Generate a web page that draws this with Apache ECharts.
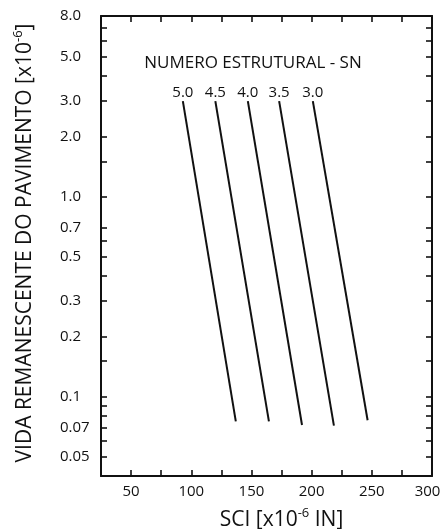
<!DOCTYPE html>
<html>
<head>
<meta charset="utf-8">
<script src="https://cdn.jsdelivr.net/npm/echarts@6/dist/echarts.min.js"></script>
<style>
  html, body { margin: 0; padding: 0; background: #ffffff; }
  #chart { width: 442px; height: 529px; }
</style>
</head>
<body>
<div id="chart"></div>
<script>
// Structural number (SN) curves: remaining pavement life vs. SCI
const snLabels   = ['5.0', '4.5', '4.0', '3.5', '3.0'];
const sciTop     = [93, 120, 147, 173, 201];
const lifeTop    = [3.0, 3.0, 3.0, 3.0, 3.0];
const sciBottom  = [137, 164.5, 192, 218.5, 246.5];
const lifeBottom = [0.075, 0.075, 0.072, 0.0715, 0.076];

// Axis ticks and labels
const xLabelValues = [50, 100, 150, 200, 250, 300];
const yLabelValues = [8, 5, 3, 2, 1, 0.7, 0.5, 0.3, 0.2, 0.1, 0.07, 0.05];
const yTickValues  = [8, 7, 6, 5, 4, 3, 2, 1.5, 1, 0.7, 0.6, 0.5, 0.4, 0.3, 0.2, 0.15,
                      0.1, 0.09, 0.08, 0.07, 0.06, 0.05];

const INK = '#111111';
const FONT = '"Open Sans", "DejaVu Sans", sans-serif';

const frameLine = { show: true, lineStyle: { color: INK, width: 2 } };
const innerTick = { show: true, inside: true, length: 6, lineStyle: { color: INK, width: 1.6 } };

const chart = echarts.init(document.getElementById('chart'), null, { renderer: 'canvas' });

const series = snLabels.map((sn, i) => ({
  name: sn,
  type: 'line',
  xAxisIndex: 0,
  yAxisIndex: 0,
  symbol: 'circle',
  symbolSize: 0,
  showSymbol: true,
  silent: true,
  lineStyle: { color: INK, width: 2 },
  label: { show: false },
  data: [
    {
      value: [sciTop[i], lifeTop[i]],
      label: {
        show: true, position: 'top', distance: 1,
        formatter: sn, color: INK, fontSize: 15, fontFamily: FONT
      }
    },
    [sciBottom[i], lifeBottom[i]]
  ]
}));

chart.setOption({
  animation: false,
  backgroundColor: '#ffffff',
  grid: { left: 101, right: 10, top: 16, bottom: 53, outerBoundsMode: 'none', containLabel: false },
  graphic: [{
    type: 'text',
    x: 253, y: 63,
    style: {
      text: 'NUMERO ESTRUTURAL - SN',
      fill: INK, font: '17px ' + FONT,
      textAlign: 'center', textVerticalAlign: 'middle'
    }
  }],
  xAxis: [
    {
      type: 'value', position: 'bottom',
      min: 25, max: 300, interval: 25,
      axisLine: frameLine, axisTick: innerTick, splitLine: { show: false },
      axisLabel: {
        customValues: xLabelValues,
        color: INK, fontSize: 15, fontFamily: FONT, margin: 8,
        // keep the last label inside the canvas edge
        formatter: v => (v === xLabelValues[xLabelValues.length - 1] ? '{edge|' + v + '}' : String(v)),
        rich: { edge: { fontSize: 15, fontFamily: FONT, color: INK, padding: [0, 9, 0, 0] } }
      },
      name: 'SCI [x10{sup|-6} IN]',
      nameLocation: 'middle', nameGap: 31,
      nameTextStyle: {
        color: INK, fontSize: 21, fontFamily: FONT, lineHeight: 26,
        padding: [0, 0, 0, 30],
        rich: { sup: { fontSize: 13, fontFamily: FONT, color: INK, verticalAlign: 'top', lineHeight: 24 } }
      }
    },
    {
      type: 'value', position: 'top',
      min: 25, max: 300, interval: 25,
      axisLine: frameLine, axisTick: innerTick,
      axisLabel: { show: false }, splitLine: { show: false }
    }
  ],
  yAxis: [
    {
      type: 'log', logBase: 10, position: 'left',
      min: 0.04, max: 8,
      axisLine: frameLine,
      axisTick: Object.assign({}, innerTick, { customValues: yTickValues }),
      minorTick: { show: false }, splitLine: { show: false },
      axisLabel: {
        customValues: yLabelValues,
        align: 'left', margin: 41,
        color: INK, fontSize: 15, fontFamily: FONT,
        formatter: v => (v >= 1 ? Number(v).toFixed(1) : String(v))
      },
      name: 'VIDA REMANESCENTE DO PAVIMENTO [x10{sup|-6}]',
      nameLocation: 'middle', nameGap: 63,
      nameTextStyle: {
        color: INK, fontSize: 21, fontFamily: FONT, lineHeight: 26,
        padding: [0, 0, 0, 6],
        rich: { sup: { fontSize: 13, fontFamily: FONT, color: INK, verticalAlign: 'top', lineHeight: 24 } }
      }
    },
    {
      type: 'log', logBase: 10, position: 'right',
      min: 0.04, max: 8,
      axisLine: frameLine,
      axisTick: Object.assign({}, innerTick, { customValues: yTickValues }),
      axisLabel: { show: false }, splitLine: { show: false }
    }
  ],
  series: series
});
</script>
</body>
</html>
